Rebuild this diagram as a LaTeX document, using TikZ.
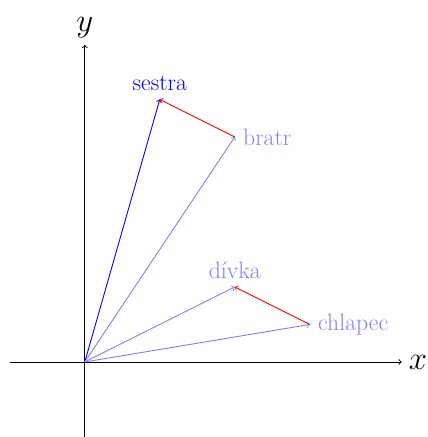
\documentclass[tikz,border=0pt]{standalone}
\begin{document}
\begin{tikzpicture}[
  line width=0.68pt,
  every node/.style={font=\fontsize{18}{22}\selectfont, inner sep=6pt},
  axis/.style={->},
  vec/.style={->, blue!50},
  diff/.style={->, red},
  lbl/.style={blue!50},
  axlbl/.style={font=\fontsize{25}{30}\selectfont, inner sep=5pt}
]
\useasboundingbox (-2.26,-2) rectangle (9.15,9.65);
\coordinate (O) at (0,0);
\coordinate (xl) at (-2,0);
\coordinate (xr) at (8.45,0);
\coordinate (yb) at (0,-2);
\coordinate (yt) at (0,8.45);
\draw[axis] (xl) -- (xr) node[right, axlbl] (xlab) {$x$};
\draw[axis] (yb) -- (yt) node[above, axlbl] (ylab) {$y$};
\coordinate (s) at (2,7);
\coordinate (b) at (4,6);
\coordinate (d) at (4,2);
\coordinate (c) at (6,1);
\node[blue, above] (sl) at (s) {sestra};
\node[lbl, right] (bl) at (b) {bratr};
\node[lbl, above] (dl) at (d) {dívka};
\node[lbl, right] (cl) at (c) {chlapec};
\draw[->, blue] (O) -- (s);
\draw[vec] (O) -- (b);
\draw[vec] (O) -- (d);
\draw[vec] (O) -- (c);
\draw[diff] (b) -- (s);
\draw[diff] (c) -- (d);
\end{tikzpicture}
\end{document}
